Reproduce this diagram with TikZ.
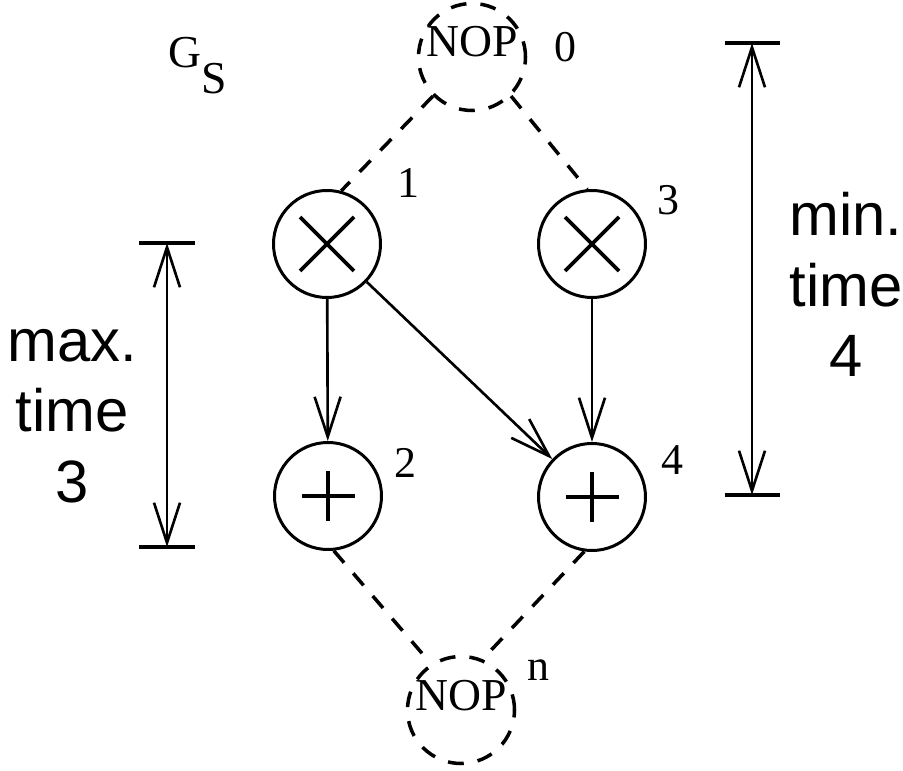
\documentclass[tikz,border=0pt]{standalone}
\usepackage{fontspec}
\setmainfont{Liberation Serif}
\newfontfamily\arialfont{Liberation Sans}
\usetikzlibrary{arrows.meta}

\begin{document}
\begin{tikzpicture}[
    % ── operation nodes ──
    opNode/.style    = {circle, draw=black, line width=1.7pt,
                        minimum size=2.14cm, inner sep=0pt},
    mulOp/.style     = {opNode, path picture={
                        \draw[black, line width=2.2pt]
                          ([shift={(-0.54,0.54)}]path picture bounding box.center)
                          -- ([shift={(0.54,-0.54)}]path picture bounding box.center)
                          ([shift={(-0.54,-0.54)}]path picture bounding box.center)
                          -- ([shift={(0.54,0.54)}]path picture bounding box.center);}},
    addOp/.style     = {opNode, path picture={
                        \draw[black, line width=2.2pt]
                          ([shift={(-0.53,0)}]path picture bounding box.center)
                          -- ([shift={(0.53,0)}]path picture bounding box.center)
                          ([shift={(0,-0.5)}]path picture bounding box.center)
                          -- ([shift={(0,0.5)}]path picture bounding box.center);}},
    nopNode/.style   = {circle, draw=black, line width=2pt,
                        dash pattern=on 9pt off 8pt,
                        minimum size=2.14cm, inner sep=0pt,
                        font=\fontsize{26}{30}\selectfont,
                        text height=0.45cm, text depth=0.45cm},
    % ── connectors ──
    arr/.style       = {-{Straight Barb[length=0.8cm, width=0.52cm]},
                        line width=1.5pt},
    dimArr/.style    = {{Straight Barb[length=0.8cm, width=0.52cm]}-{Straight Barb[length=0.8cm, width=0.52cm]},
                        line width=1.5pt},
    dimBar/.style    = {line width=2.4pt},
    dashLine/.style  = {line width=2pt, dash pattern=on 9pt off 8pt},
    % ── text styles ──
    numLabel/.style  = {font=\fontsize{25}{28}\selectfont, inner sep=0pt},
    graphLabel/.style= {font=\fontsize{26}{30}\selectfont, inner sep=0pt},
    timeLabel/.style = {font=\arialfont\fontsize{34}{40}\selectfont,
                        align=center, inner sep=0pt},
]

\useasboundingbox (0,0) rectangle (18.06,-15.42);

% =====================================================================
% Graph G_S
% =====================================================================
\node[graphLabel, anchor=base west] (gs) at (3.36,-1.36)
  {G\raisebox{-0.52cm}{S}};

\node[nopNode] (nop0) at (9.44,-1.14) {NOP};
\node[numLabel] (lab0) at (11.3,-0.94) {0};

\node[mulOp] (n1) at (6.54,-4.88) {};
\node[numLabel] (lab1) at (8.16,-3.66) {1};
\node[mulOp] (n3) at (11.84,-4.88) {};
\node[numLabel] (lab3) at (13.36,-4.0) {3};

\node[addOp] (n2) at (6.56,-9.92) {};
\node[numLabel] (lab2) at (8.1,-9.26) {2};
\node[addOp] (n4) at (11.84,-9.94) {};
\node[numLabel] (lab4) at (13.44,-9.2) {4};

\node[nopNode] (nopn) at (9.22,-14.2) {NOP};
\node[numLabel] (labn) at (10.76,-13.4) {n};

% dummy edges
\draw[dashLine] (nop0.225) -- (n1.75);
\draw[dashLine] (nop0.-45) -- (n3.95);
\draw[dashLine] (n2.-84) -- (nopn.123);
\draw[dashLine] (n4.-98) -- (nopn.67);

% data edges
\draw[arr] (n1) -- (n2);
\draw[arr] (n1) -- (n4);
\draw[arr] (n3) -- (n4);

% =====================================================================
% max. time (left)
% =====================================================================
\coordinate (maxTop) at (3.34,-4.86);
\coordinate (maxBot) at (3.34,-10.94);
\draw[dimBar] ([xshift=-0.56cm]maxTop) -- ([xshift=0.56cm]maxTop);
\draw[dimBar] ([xshift=-0.56cm]maxBot) -- ([xshift=0.56cm]maxBot);
\draw[dimArr] (maxTop) -- (maxBot);
\node[timeLabel] (maxTime) at (1.44,-8.32) {max.\\time\\3};

% =====================================================================
% min. time (right)
% =====================================================================
\coordinate (minTop) at (15.04,-0.86);
\coordinate (minBot) at (15.04,-9.9);
\draw[dimBar] ([xshift=-0.55cm]minTop) -- ([xshift=0.55cm]minTop);
\draw[dimBar] ([xshift=-0.55cm]minBot) -- ([xshift=0.55cm]minBot);
\draw[dimArr] (minTop) -- (minBot);
\node[timeLabel] (minTime) at (16.92,-5.69) {min.\\time\\4};

\end{tikzpicture}
\end{document}
